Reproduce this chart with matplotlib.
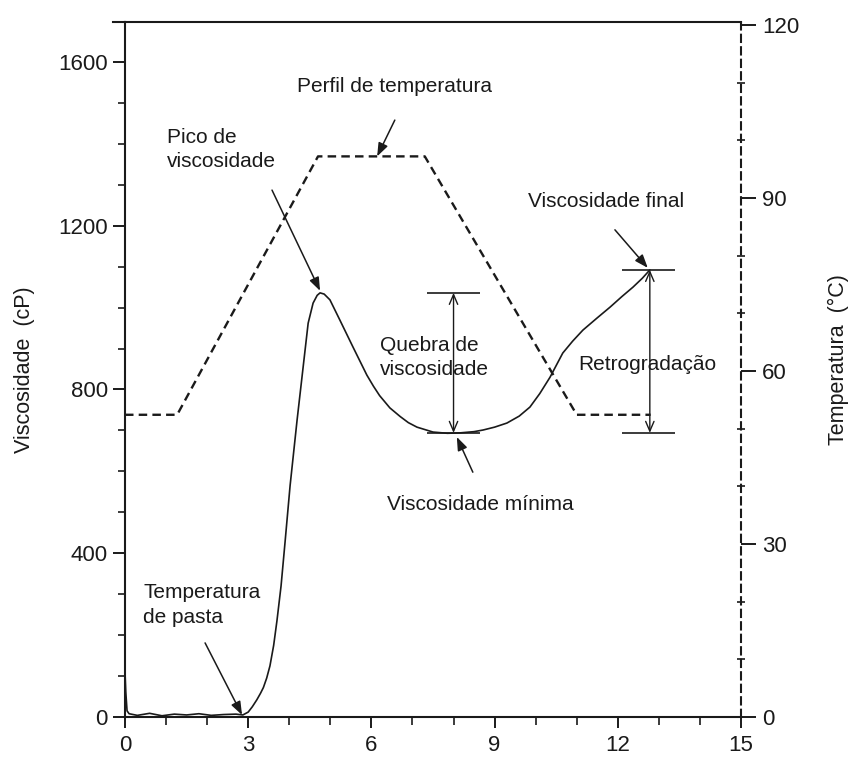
import matplotlib
matplotlib.use("Agg")
import matplotlib.pyplot as plt
from matplotlib.ticker import MultipleLocator, FixedLocator

plt.rcParams['font.family'] = ['Liberation Sans', 'DejaVu Sans']

# RVA pasting curve: time (min) vs apparent viscosity (cP)
time_visc = [0.00, 0.02, 0.05, 0.10, 0.30, 0.60, 0.90, 1.20, 1.50, 1.80, 2.10,
             2.40, 2.70, 2.87, 3.00, 3.10, 3.21, 3.30, 3.37, 3.45, 3.53, 3.62,
             3.70, 3.80, 3.90, 4.02, 4.19, 4.33, 4.46, 4.58, 4.68, 4.75, 4.85,
             4.99, 5.23, 5.55, 5.89, 6.05, 6.20, 6.45, 6.70, 6.90, 7.11, 7.50,
             7.85, 8.16, 8.50, 8.72, 9.00, 9.30, 9.60, 9.86, 10.10, 10.35,
             10.66, 10.90, 11.15, 11.50, 11.81, 12.10, 12.37, 12.60, 12.78]
viscosity = [110, 60, 15, 8, 4, 9, 3, 7, 5, 8, 4,
             6, 7, 5, 12, 25, 42, 58, 72, 95, 125, 175,
             235, 320, 430, 565, 725, 848, 962, 1011, 1030, 1036, 1033,
             1019, 970, 904, 835, 808, 785, 755, 734, 719, 708, 696,
             693, 694, 697, 701, 708, 718, 735, 757, 790, 830,
             889, 918, 945, 975, 1001, 1027, 1050, 1072, 1092]

# Temperature profile (°C)
time_temp = [0.0, 1.27, 4.70, 7.30, 11.0, 12.8]
temperature = [52.4, 52.4, 97.2, 97.2, 52.4, 52.4]

# Characteristic points
pasting_time, pasting_visc = 2.85, 5
peak_time, peak_visc = 4.75, 1036
trough_time, trough_visc = 8.0, 694
final_time, final_visc = 12.78, 1092
temp_arrow_time, temp_plateau = 6.14, 97.2

x_ticks = [0, 3, 6, 9, 12, 15]
visc_ticks = [0, 400, 800, 1200, 1600]
temp_ticks = [0, 30, 60, 90, 120]

W, H = 848, 762
fig = plt.figure(figsize=(W / 100, H / 100), dpi=100)
ax = fig.add_axes([125 / W, 45 / H, 616 / W, 695 / H])
ax2 = ax.twinx()

ink = '#1a1a1a'
VMAX = 1697.6
TMAX = 120.5

# viscosity curve
ax.plot(time_visc, viscosity, color=ink, lw=1.2, solid_capstyle='round',
        solid_joinstyle='round')
ax.set_xlim(0, 15)
ax.set_ylim(0, VMAX)

# temperature profile
ax2.plot(time_temp, temperature, color=ink, lw=1.7, dashes=(3.6, 2.2))
ax2.set_ylim(0, TMAX)

# spines
for s in ['left', 'bottom', 'top']:
    ax.spines[s].set_linewidth(1.5)
    ax.spines[s].set_color(ink)
ax.spines['right'].set_visible(False)
for s in ['left', 'bottom', 'top']:
    ax2.spines[s].set_visible(False)
ax2.spines['right'].set_linewidth(1.5)
ax2.spines['right'].set_color(ink)
ax2.spines['right'].set_linestyle((0, (3.5, 2.5)))
ax.plot([-0.3, 0], [VMAX, VMAX], color=ink, lw=1.5, clip_on=False)

# ticks
ax.xaxis.set_major_locator(FixedLocator(x_ticks))
ax.xaxis.set_minor_locator(MultipleLocator(1))
ax.yaxis.set_major_locator(FixedLocator(visc_ticks))
ax.yaxis.set_minor_locator(MultipleLocator(100))
ax2.yaxis.set_major_locator(FixedLocator(temp_ticks))
ax2.yaxis.set_minor_locator(MultipleLocator(10))

ax.tick_params(axis='x', which='major', direction='out', length=8, width=1.4,
               pad=5, labelsize=16, colors=ink)
ax.tick_params(axis='x', which='minor', direction='out', length=6, width=1.2,
               colors=ink)
ax.tick_params(axis='y', which='major', direction='out', length=8.5, width=1.4,
               pad=4, labelsize=16, colors=ink)
ax.tick_params(axis='y', which='minor', direction='out', length=5, width=1.2,
               colors=ink)
ax2.tick_params(axis='y', which='major', direction='out', length=11, width=1.4,
                pad=4, labelsize=16, colors=ink)
ax2.tick_params(axis='y', which='minor', direction='inout', length=6, width=1.2,
                colors=ink)

# axis titles
fig.text(25 / W, 1 - 370 / H, 'Viscosidade  (cP)', rotation=90, ha='center',
         va='center', fontsize=15.5, color=ink)
fig.text(838 / W, 1 - 360 / H, 'Temperatura  (°C)', rotation=90, ha='center',
         va='center', fontsize=15.5, color=ink)

# reference bars and double arrows
bar_kw = dict(color=ink, lw=1.2)
ax.hlines([peak_visc, trough_visc], 7.35, 8.65, **bar_kw)
ax.hlines([final_visc, trough_visc], 12.10, 13.40, **bar_kw)
dbl = dict(arrowstyle='<->,head_length=0.7,head_width=0.3', color=ink, lw=1.0,
           shrinkA=0, shrinkB=0)
ax.annotate('', xy=(trough_time, trough_visc), xytext=(trough_time, peak_visc),
            arrowprops=dbl)
ax.annotate('', xy=(final_time, trough_visc), xytext=(final_time, final_visc),
            arrowprops=dbl)

# labels with pointer arrows
txt = dict(fontsize=15, color=ink, linespacing=1.35)
ptr = dict(arrowstyle='-|>,head_length=0.8,head_width=0.3', color=ink, lw=1.1,
           shrinkA=0, shrinkB=0)

ax.text(1.02, 1387, 'Pico de\nviscosidade', ha='left', va='center', **txt)
ax.annotate('', xy=(peak_time, peak_visc + 5), xytext=(3.58, 1287), arrowprops=ptr)

ax.text(6.57, 1539, 'Perfil de temperatura', ha='center', va='center', **txt)
ax.annotate('', xy=(temp_arrow_time, temp_plateau / TMAX * VMAX),
            xytext=(6.57, 1458), arrowprops=ptr)

ax.text(11.71, 1258, 'Viscosidade final', ha='center', va='center', **txt)
ax.annotate('', xy=(final_time - 0.05, final_visc + 5), xytext=(11.93, 1190),
            arrowprops=ptr)

ax.text(6.21, 879, 'Quebra de\nviscosidade', ha='left', va='center', **txt)
ax.text(12.73, 860, 'Retrogradação', ha='center', va='center', **txt)

ax.text(8.64, 518, 'Viscosidade mínima', ha='center', va='center', **txt)
ax.annotate('', xy=(trough_time + 0.08, trough_visc - 10), xytext=(8.47, 598),
            arrowprops=ptr)

ax.text(0.44, 274, 'Temperatura\nde pasta', ha='left', va='center',
        fontsize=15, color=ink, linespacing=1.4)
ax.annotate('', xy=(pasting_time, pasting_visc), xytext=(1.95, 181),
            arrowprops=ptr)

fig.savefig('out.png', dpi=100, facecolor='white')
